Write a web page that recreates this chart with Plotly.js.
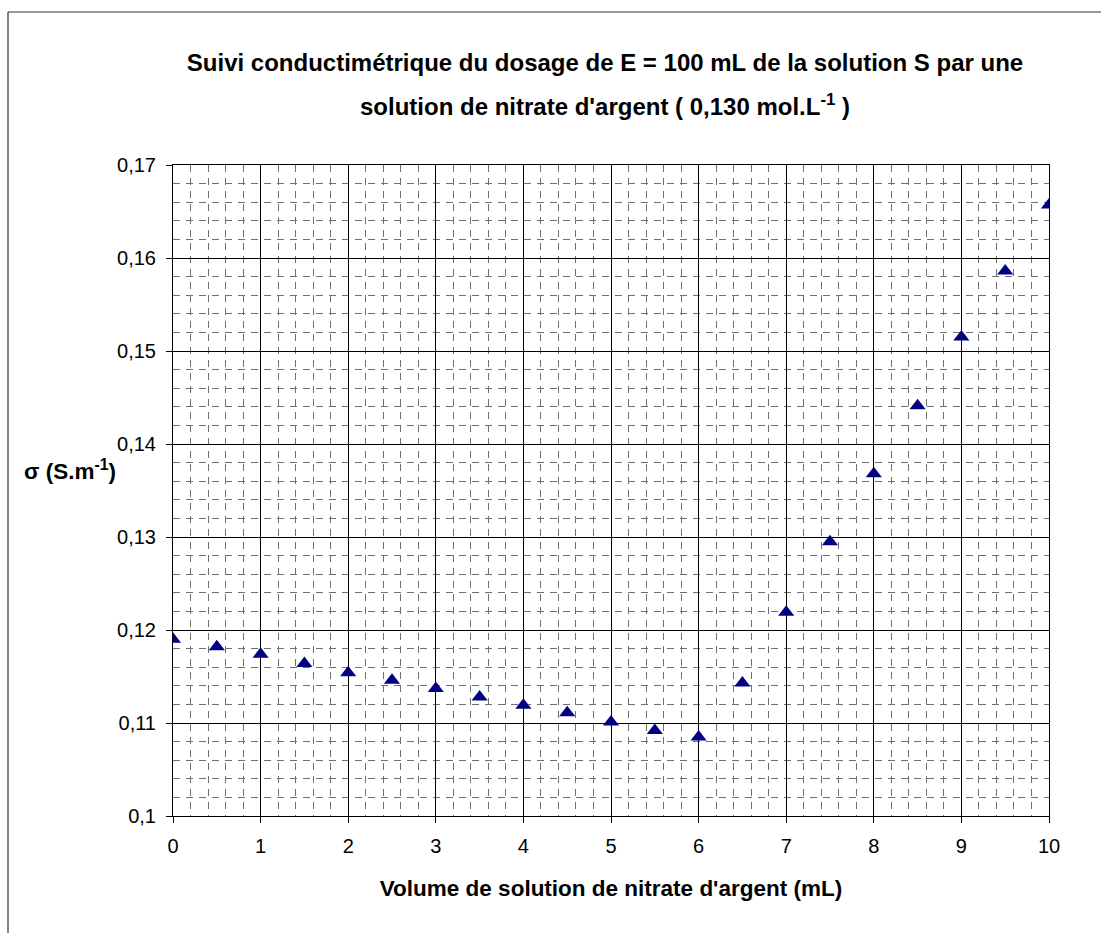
<!DOCTYPE html>
<html>
<head>
<meta charset="utf-8">
<script src="https://cdn.plot.ly/plotly-3.0.1.min.js"></script>
<style>
  html, body { margin: 0; padding: 0; background: #fff; }
  #chart { width: 1101px; height: 933px; }
</style>
</head>
<body>
<div id="chart"></div>
<script>
// Data
var volume = [0, 0.5, 1, 1.5, 2, 2.5, 3, 3.5, 4, 4.5, 5, 5.5, 6, 6.5, 7, 7.5, 8, 8.5, 9, 9.5, 10];
var conductivite = [0.1190, 0.1182, 0.1174, 0.1164, 0.1154, 0.1146, 0.1137, 0.1128, 0.1119, 0.1111, 0.1101,
                    0.1092, 0.1085, 0.1143, 0.1219, 0.1295, 0.1368, 0.1441, 0.1515, 0.1586, 0.1657];
var titleLine1 = "Suivi conductimétrique du dosage de E = 100 mL de la solution S par une";
var titleLine2 = "solution de nitrate d'argent ( 0,130 mol.L<sup>-1</sup> )";
var xTitle = "Volume de solution de nitrate d'argent (mL)";
var yTitle = "σ (S.m<sup>-1</sup>)";

var FONT = "Liberation Sans, Arial, sans-serif";

var trace = {
  x: volume,
  y: conductivite,
  type: 'scatter',
  mode: 'markers',
  marker: { symbol: 'triangle-up', color: '#000080', size: 14, line: { width: 0 } },
  hoverinfo: 'x+y'
};

var layout = {
  width: 1101,
  height: 933,
  margin: { l: 173, r: 52, t: 165, b: 117 },
  paper_bgcolor: '#ffffff',
  plot_bgcolor: '#ffffff',
  separators: ',.',
  showlegend: false,
  font: { family: FONT, color: '#000000', size: 20 },
  title: {
    text: '<b>' + titleLine1 + '</b>',
    font: { family: FONT, size: 24, color: '#000' },
    x: (605 - 173) / 876, xref: 'paper', xanchor: 'center',
    y: 1 - 63 / 933, yref: 'container', yanchor: 'middle'
  },
  xaxis: {
    range: [0, 10],
    dtick: 1,
    tick0: 0,
    showline: true, linecolor: '#000', linewidth: 1, mirror: true,
    showgrid: true, gridcolor: '#000', gridwidth: 1,
    zeroline: false,
    ticks: 'outside', ticklen: 6, tickcolor: '#000',
    ticklabelstandoff: 6,
    tickfont: { family: FONT, size: 20, color: '#000' },
    minor: { dtick: 0.2, showgrid: true, gridcolor: '#707070', gridwidth: 1, griddash: '7px,6px', ticks: '' },
    title: { text: '<b>' + xTitle + '</b>', font: { family: FONT, size: 22.5, color: '#000' }, standoff: 24 },
    fixedrange: true
  },
  yaxis: {
    range: [0.1, 0.17],
    dtick: 0.01,
    tick0: 0.1,
    showline: true, linecolor: '#000', linewidth: 1, mirror: true,
    showgrid: true, gridcolor: '#000', gridwidth: 1,
    zeroline: false,
    ticks: 'outside', ticklen: 6, tickcolor: '#000',
    ticklabelstandoff: 6,
    tickfont: { family: FONT, size: 20, color: '#000' },
    minor: { dtick: 0.002, showgrid: true, gridcolor: '#707070', gridwidth: 1, griddash: '7px,6px', ticks: '' },
    fixedrange: true
  },
  annotations: [
    {
      text: '<b>' + titleLine2 + '</b>',
      xref: 'paper', yref: 'paper',
      x: (605 - 173) / 876, y: (816 - 105) / 651,
      xanchor: 'center', yanchor: 'middle',
      showarrow: false,
      font: { family: FONT, size: 24, color: '#000' }
    },
    {
      text: '<b>' + yTitle + '</b>',
      xref: 'paper', yref: 'paper',
      x: (70 - 173) / 876, y: (816 - 470) / 651,
      xanchor: 'center', yanchor: 'middle',
      showarrow: false,
      font: { family: FONT, size: 22.5, color: '#000' }
    }
  ],
  shapes: [
    { type: 'line', xref: 'paper', yref: 'paper',
      x0: (8 - 173) / 876, x1: (8 - 173) / 876, y0: (816 - 12) / 651, y1: (816 - 940) / 651,
      line: { color: '#333', width: 1.2 } },
    { type: 'line', xref: 'paper', yref: 'paper',
      x0: (8 - 173) / 876, x1: (1110 - 173) / 876, y0: (816 - 12) / 651, y1: (816 - 12) / 651,
      line: { color: '#333', width: 1.2 } }
  ]
};

Plotly.newPlot('chart', [trace], layout, { displayModeBar: false, responsive: false });
</script>
</body>
</html>
